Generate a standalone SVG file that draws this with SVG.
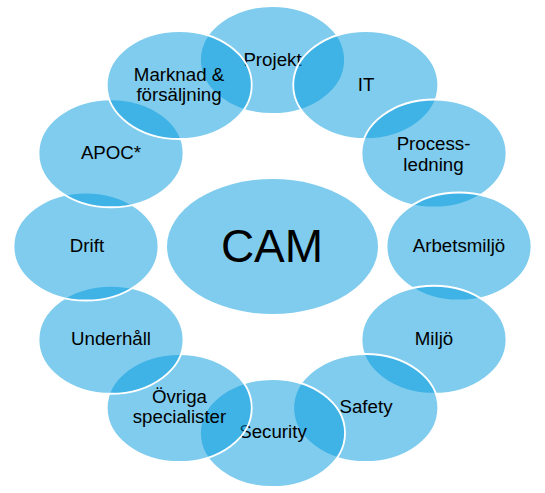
<svg xmlns="http://www.w3.org/2000/svg" width="545" height="493" viewBox="0 0 545 493">
<style>
.n{fill:#0099DD;fill-opacity:0.5;stroke:#FFFFFF;stroke-width:1.8}
.c{fill:#0099DD;fill-opacity:0.5;stroke:none}
text{font-family:"Liberation Sans",Arial,sans-serif;font-size:18.7px;fill:#000;text-anchor:middle}
.big{font-size:46px}
</style>
<rect width="545" height="493" fill="#FFFFFF"/>
<g id="connectors"></g>
<g id="cam"><ellipse class="c" cx="272.5" cy="246.5" rx="105.5" ry="67.5"/><text class="big" x="272" y="262">CAM</text></g>
<g id="projekt"><ellipse class="n" cx="272.5" cy="60" rx="72.5" ry="54"/><text x="272.5" y="66">Projekt</text></g>
<g id="it"><ellipse class="n" cx="365.75" cy="85" rx="72.5" ry="54"/><text x="366" y="91">IT</text></g>
<g id="processledning"><ellipse class="n" cx="434" cy="153.5" rx="72.5" ry="54"/><text x="433.5" y="150">Process-</text><text x="433.5" y="171">ledning</text></g>
<g id="arbetsmiljo"><ellipse class="n" cx="459" cy="246.5" rx="72.5" ry="54"/><text x="459" y="252">Arbetsmiljö</text></g>
<g id="miljo"><ellipse class="n" cx="434" cy="339.75" rx="72.5" ry="54"/><text x="434" y="345">Miljö</text></g>
<g id="safety"><ellipse class="n" cx="365.75" cy="408" rx="72.5" ry="54"/><text x="366" y="413">Safety</text></g>
<g id="security"><ellipse class="n" cx="272.5" cy="433" rx="72.5" ry="54"/><text x="273" y="438">Security</text></g>
<g id="ovriga"><ellipse class="n" cx="179.25" cy="408" rx="72.5" ry="54"/><text x="179.5" y="403">Övriga</text><text x="179.5" y="423">specialister</text></g>
<g id="underhall"><ellipse class="n" cx="111" cy="339.75" rx="72.5" ry="54"/><text x="111" y="345">Underhåll</text></g>
<g id="drift"><ellipse class="n" cx="86" cy="246.5" rx="72.5" ry="54"/><text x="87" y="252">Drift</text></g>
<g id="apoc"><ellipse class="n" cx="111" cy="153.25" rx="72.5" ry="54"/><text x="111" y="158.5">APOC*</text></g>
<g id="marknad"><ellipse class="n" cx="179.25" cy="85" rx="72.5" ry="54"/><text x="179" y="81">Marknad &amp;</text><text x="179" y="101">försäljning</text></g>
</svg>
